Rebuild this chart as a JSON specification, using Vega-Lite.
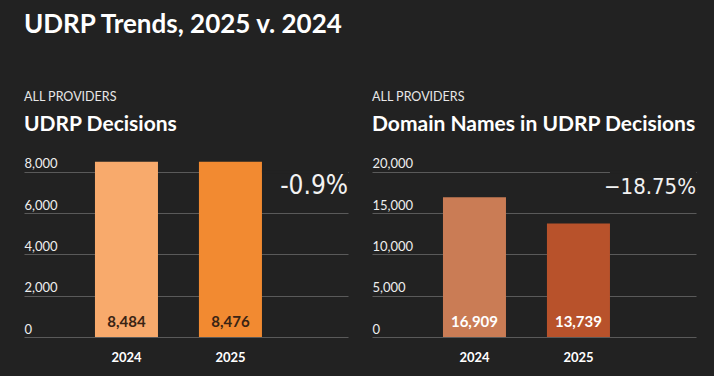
{
  "$schema": "https://vega.github.io/schema/vega-lite/v6.json",
  "background": "#222222",
  "padding": {"left": 24, "top": 11, "right": 18, "bottom": 12},
  "title": {"text": "UDRP Trends, 2025 v. 2024", "anchor": "start", "font": "Lato", "fontSize": 26, "fontWeight": "bold", "color": "#ffffff", "offset": 53},
  "spacing": 22,
  "hconcat": [
    {
      "width": 324,
      "height": 186,
      "title": {"text": "ALL PROVIDERS", "subtitle": "UDRP Decisions", "anchor": "start", "font": "Lato", "fontSize": 12.5, "fontWeight": "normal", "color": "#e8e8e8", "subtitleFont": "Lato", "subtitleFontSize": 21, "subtitleFontWeight": "bold", "subtitleColor": "#ffffff", "subtitlePadding": 11, "offset": 16},
      "data": {"values": [{"year": "2024", "value": 8484}, {"year": "2025", "value": 8476}]},
      "layer": [
        {
          "mark": {"type": "bar"},
          "encoding": {
            "x": {"field": "year", "type": "nominal", "scale": {"paddingInner": 0.394, "paddingOuter": 0.755, "align": 0.452}},
            "y": {"field": "value", "type": "quantitative", "scale": {"domain": [0, 9000], "nice": false}, "axis": {"values": [0, 2000, 4000, 6000, 8000], "format": ",d"}},
            "color": {"field": "year", "type": "nominal", "scale": {"range": ["#F8AA6C", "#F28A31"]}, "legend": null}
          }
        },
        {
          "transform": [{"filter": "datum.year == '2025'"}],
          "mark": {"type": "rule", "color": "#222222", "strokeWidth": 3},
          "encoding": {
            "x": {"field": "year", "type": "nominal", "bandPosition": 1},
            "x2": {"value": "width"},
            "y": {"datum": 8000, "type": "quantitative"}
          }
        },
        {
          "mark": {"type": "text", "dy": -15, "font": "Lato", "fontSize": 15, "fontWeight": "bold", "color": "#3a2414"},
          "encoding": {
            "x": {"field": "year", "type": "nominal"},
            "y": {"datum": 0, "type": "quantitative"},
            "text": {"field": "value", "type": "quantitative", "format": ","}
          }
        },
        {
          "data": {"values": [{"change": "-0.9%"}]},
          "mark": {"type": "text", "align": "right", "baseline": "middle", "font": "DejaVu Sans Condensed, Roboto", "fontWeight": 300, "fontSize": 26, "color": "#f2f2f2"},
          "encoding": {
            "x": {"value": "width"},
            "y": {"datum": 7290, "type": "quantitative"},
            "text": {"field": "change", "type": "nominal"}
          }
        }
      ]
    },
    {
      "width": 324,
      "height": 186,
      "title": {"text": "ALL PROVIDERS", "subtitle": "Domain Names in UDRP Decisions", "anchor": "start", "font": "Lato", "fontSize": 12.5, "fontWeight": "normal", "color": "#e8e8e8", "subtitleFont": "Lato", "subtitleFontSize": 21, "subtitleFontWeight": "bold", "subtitleColor": "#ffffff", "subtitlePadding": 11, "offset": 16},
      "data": {"values": [{"year": "2024", "value": 16909}, {"year": "2025", "value": 13739}]},
      "layer": [
        {
          "mark": {"type": "bar"},
          "encoding": {
            "x": {"field": "year", "type": "nominal", "scale": {"paddingInner": 0.394, "paddingOuter": 0.755, "align": 0.452}},
            "y": {"field": "value", "type": "quantitative", "scale": {"domain": [0, 22500], "nice": false}, "axis": {"values": [0, 5000, 10000, 15000, 20000], "format": ",d"}},
            "color": {"field": "year", "type": "nominal", "scale": {"range": ["#CA7C55", "#B8522B"]}, "legend": null}
          }
        },
        {
          "transform": [{"filter": "datum.year == '2025'"}],
          "mark": {"type": "rule", "color": "#222222", "strokeWidth": 3},
          "encoding": {
            "x": {"field": "year", "type": "nominal", "bandPosition": 1},
            "x2": {"value": "width"},
            "y": {"datum": 20000, "type": "quantitative"}
          }
        },
        {
          "mark": {"type": "text", "dy": -15, "font": "Lato", "fontSize": 15, "fontWeight": "bold", "color": "#ffffff"},
          "encoding": {
            "x": {"field": "year", "type": "nominal"},
            "y": {"datum": 0, "type": "quantitative"},
            "text": {"field": "value", "type": "quantitative", "format": ","}
          }
        },
        {
          "data": {"values": [{"change": "\u221218.75%"}]},
          "mark": {"type": "text", "align": "right", "baseline": "middle", "font": "DejaVu Sans Condensed, Roboto", "fontWeight": 300, "fontSize": 22, "color": "#f2f2f2"},
          "encoding": {
            "x": {"value": "width"},
            "y": {"datum": 18130, "type": "quantitative"},
            "text": {"field": "change", "type": "nominal"}
          }
        }
      ]
    }
  ],
  "resolve": {"scale": {"color": "independent"}},
  "config": {
    "view": {"stroke": null},
    "font": "Lato",
    "axisX": {"domain": false, "ticks": false, "grid": false, "labelAngle": 0, "labelFont": "Lato", "labelFontWeight": "bold", "labelFontSize": 13, "labelColor": "#ffffff", "labelPadding": 14, "title": null},
    "axisY": {"domain": false, "ticks": false, "tickSize": 0, "grid": true, "gridColor": "#5a5a5a", "gridWidth": 1, "labelAlign": "left", "labelPadding": 0, "labelBaseline": "alphabetic", "labelOffset": -4, "labelFont": "Lato", "labelFontSize": 13, "labelColor": "#eeeeee", "title": null, "format": ",d"}
  }
}
